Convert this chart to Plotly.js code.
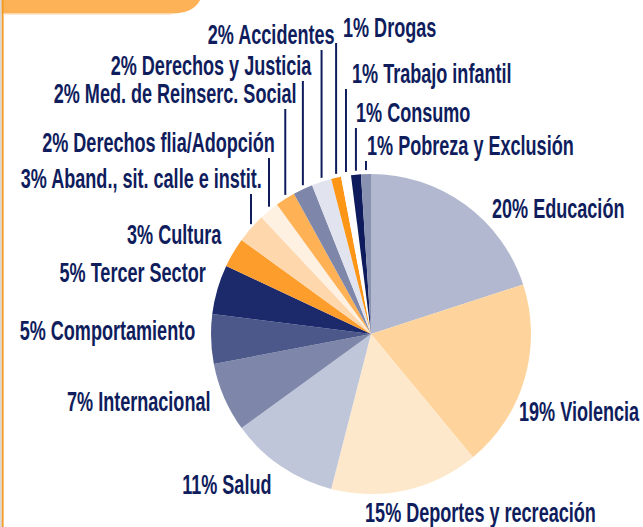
<!DOCTYPE html>
<html><head><meta charset="utf-8">
<script src="https://cdn.plot.ly/plotly-3.0.1.min.js"></script>
<style>html,body{margin:0;padding:0;background:#fff;overflow:hidden}#chart{width:643px;height:527px}</style>
</head><body><div id="chart"></div>
<script>
// ---- data ----
const categories = ["Educación","Violencia","Deportes y recreación","Salud","Internacional","Comportamiento","Tercer Sector","Cultura","Aband., sit. calle e instit.","Derechos flia/Adopción","Med. de Reinserc. Social","Derechos y Justicia","Accidentes","Drogas","Trabajo infantil","Consumo","Pobreza y Exclusión"];
const percents = [20,19,15,11,7,5,5,3,3,2,2,2,2,1,1,1,1];
const sliceColors = ["#b1b8d0","#fed49c","#fee8cb","#c0c6d9","#7e87aa","#4c5889","#1c2a6c","#fd9d2c","#fed8ac","#fff1e1","#feb155","#7e87aa","#e1e4ee","#fd9516","#ffffff","#0e1c5e","#8a92b2"];

// ---- label layout (pixel anchor x, cap-centre y, side, leader line?) ----
const labelX =   [490,517,363,274,213,197,208,224,264,277,299,314,337,341,350,354,365];
const labelY =   [208,411,512,484,401,330,272,234,178,142,93,65,34,27,73,112,145];
const labelSide = ["left","left","left","right","right","right","right","right","right","right","right","right","right","left","left","left","left"];
const hasLeader = [0,0,0,0,0,0,0,0,1,1,1,1,1,1,1,1,1];

const W = 643, H = 527;
const CX = 371, CY = 334, R = 160;
const navy = "#101d5d";
const FONT = "'Liberation Sans', Arial, sans-serif";
const FSIZE = 28, SX = 0.645;

const total = percents.reduce((a,b)=>a+b,0);

// leader lines computed from slice mid-angles (clockwise from 12 o'clock)
const lx = [], ly = [];
let cum = 0;
percents.forEach((v,i)=>{
  const mid = (cum + v/2)/total*2*Math.PI;
  cum += v;
  if (hasLeader[i]) {
    const x = CX + R*Math.sin(mid);
    const yEdge = CY - R*Math.cos(mid);
    lx.push(x, x, null);
    ly.push(yEdge - 4, labelY[i] + 16, null);
  }
});

const annotations = categories.map((c,i)=>({
  x: labelX[i], y: labelY[i], xref:"x", yref:"y",
  text: percents[i] + "% " + c,
  showarrow:false, xanchor: labelSide[i], yanchor:"middle",
  font:{family:FONT, size:FSIZE, color:navy, weight:"bold"}
}));

const traces = [
  {
    type:"pie", values: percents, labels: categories, sort:false,
    direction:"clockwise", rotation:0,
    marker:{colors:sliceColors, line:{width:0}},
    textinfo:"none", hoverinfo:"label+percent", showlegend:false,
    domain:{x:[(CX-R)/W,(CX+R)/W], y:[(H-CY-R)/H,(H-CY+R)/H]}
  },
  {
    type:"scatter", mode:"lines", x: lx, y: ly,
    line:{color:navy, width:2}, hoverinfo:"skip", showlegend:false
  }
];

const layout = {
  width:W, height:H, margin:{l:0,r:0,t:0,b:0},
  paper_bgcolor:"#ffffff", plot_bgcolor:"rgba(0,0,0,0)",
  showlegend:false,
  xaxis:{range:[0,W], visible:false, fixedrange:true},
  yaxis:{range:[H,0], visible:false, fixedrange:true},
  annotations: annotations,
  shapes:[
    {type:"path", xref:"x", yref:"y", path:"M 0 -2 L 201 -2 C 197 8 188 13.5 172 13.5 L 0 13.5 Z",
     fillcolor:"#feb257", line:{width:0}, layer:"above"},
    {type:"rect", xref:"x", yref:"y", x0:0, x1:1.8, y0:0, y1:H, fillcolor:"#dcd8d4", line:{width:0}},
    {type:"rect", xref:"x", yref:"y", x0:1.8, x1:3.6, y0:0, y1:H, fillcolor:"#f59a23", line:{width:0}},
    {type:"line", xref:"x", yref:"y", x0:3.6, x1:172, y0:14.5, y1:14.5, line:{color:"#fde9d2", width:1}}
  ]
};

Plotly.newPlot("chart", traces, layout, {staticPlot:true, displayModeBar:false}).then(gd=>{
  // condense the label text horizontally, keeping its anchored edge fixed
  const texts = gd.querySelectorAll("g.annotation text.annotation-text");
  texts.forEach((t,i)=>{
    const bb = t.getBBox();
    const ax = labelSide[i] === "left" ? bb.x : bb.x + bb.width;
    t.setAttribute("transform", `translate(${ax},0) scale(${SX},1) translate(${-ax},0)`);
  });
});
</script>
</body></html>
